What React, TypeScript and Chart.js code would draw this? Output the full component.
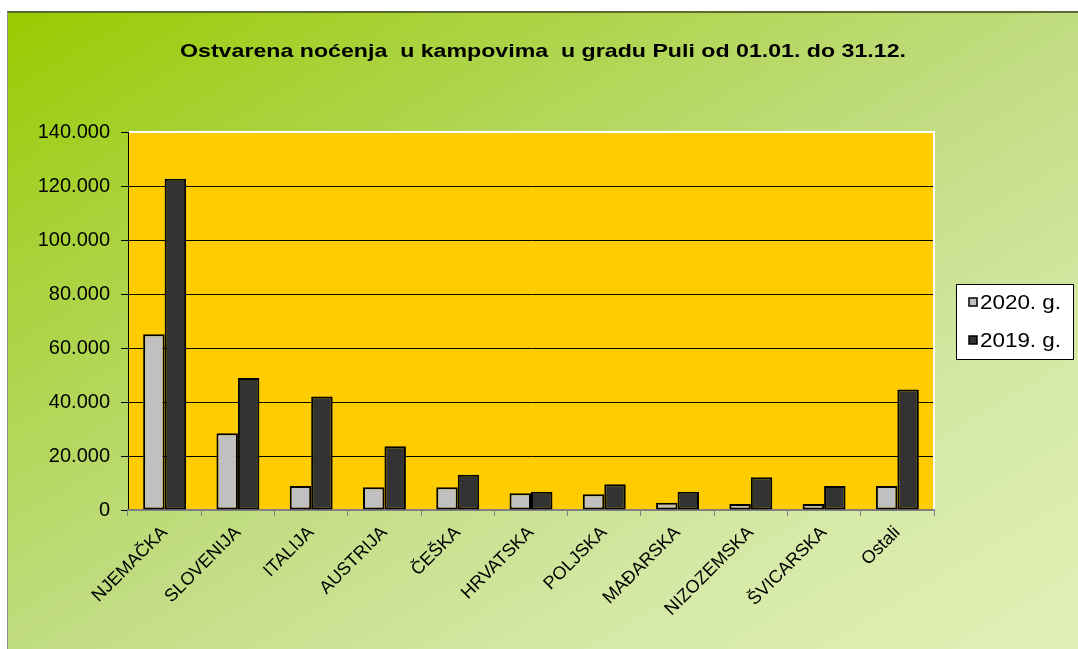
import React, { useEffect, useRef } from "react";
import { Chart, registerables } from "chart.js";

Chart.register(...registerables);

const TITLE = "Ostvarena noćenja  u kampovima  u gradu Puli od 01.01. do 31.12.";
const categories = ["NJEMAČKA", "SLOVENIJA", "ITALIJA", "AUSTRIJA", "ČEŠKA", "HRVATSKA", "POLJSKA", "MAĐARSKA", "NIZOZEMSKA", "ŠVICARSKA", "Ostali"];
const series2020 = [65100, 28400, 8900, 8400, 8400, 6200, 5800, 2700, 2200, 2200, 8900];
const series2019 = [122700, 48900, 42000, 23600, 13100, 6800, 9500, 6800, 12100, 8900, 44600];
const seriesNames = ["2020. g.", "2019. g."];
const seriesColors = ["#C0C0C0", "#333333"];
const yMin = 0;
const yMax = 140000;
const yStep = 20000;

const FONT = "'Liberation Sans', Arial, sans-serif";

function fmt(v: number): string {
  return String(v).replace(/\B(?=(\d{3})+(?!\d))/g, ".");
}

function stretchedText(ctx: any, text: string, x: number, y: number, targetW: number, align: string) {
  const w = ctx.measureText(text).width;
  const sx = targetW / w;
  ctx.save();
  ctx.translate(x, y);
  ctx.scale(sx, 1);
  ctx.textAlign = align;
  ctx.fillText(text, 0, 0);
  ctx.restore();
}

const decor = {
  id: "decor",
  beforeDraw(chart: any) {
    const ctx = chart.ctx;
    const W = chart.width;
    const H = chart.height;
    ctx.save();
    ctx.fillStyle = "#ffffff";
    ctx.fillRect(0, 0, W, H);
    const g = ctx.createLinearGradient(262, -140, 822, 800);
    g.addColorStop(0, "#98CB00");
    g.addColorStop(0.2, "#A8D238");
    g.addColorStop(0.5, "#C0DC80");
    g.addColorStop(0.75, "#D4E8A4");
    g.addColorStop(1, "#E2F0B6");
    ctx.fillStyle = g;
    ctx.fillRect(7, 12, W - 7, H - 12);
    ctx.fillStyle = "#5A6A30";
    ctx.fillRect(7, 11, W - 7, 2);
    ctx.fillStyle = "#909090";
    ctx.fillRect(7, 12, 1, H - 12);
    const a = chart.chartArea;
    ctx.fillStyle = "#FFCC00";
    ctx.fillRect(a.left, a.top, a.right - a.left, a.bottom - a.top);
    ctx.restore();
  },
  afterDraw(chart: any) {
    const ctx = chart.ctx;
    const a = chart.chartArea;
    ctx.save();
    ctx.fillStyle = "#ffffff";
    ctx.fillRect(a.left + 1, a.top - 1, a.right - a.left, 2);
    ctx.fillRect(a.right - 1, a.top - 1, 2, a.bottom - a.top);
    // title
    ctx.fillStyle = "#000000";
    ctx.font = `bold 19px ${FONT}`;
    ctx.textBaseline = "middle";
    stretchedText(ctx, TITLE, 543, 52, 726, "center");
    // legend
    const lx = 956, ly = 284, lw = 117, lh = 75;
    ctx.fillStyle = "#ffffff";
    ctx.fillRect(lx, ly, lw, lh);
    ctx.strokeStyle = "#000000";
    ctx.lineWidth = 1;
    ctx.strokeRect(lx + 0.5, ly + 0.5, lw, lh);
    ctx.font = `20px ${FONT}`;
    ctx.textBaseline = "middle";
    seriesNames.forEach((n, i) => {
      const cy = 302 + i * 38;
      ctx.fillStyle = seriesColors[i];
      ctx.fillRect(969, cy - 4, 8, 8);
      ctx.strokeStyle = "#000000";
      ctx.lineWidth = 1.5;
      ctx.strokeRect(969, cy - 4, 8, 8);
      ctx.fillStyle = "#000000";
      stretchedText(ctx, n, 980, cy + 1, 81, "left");
    });
    ctx.restore();
  },
};

export default function App() {
  const ref = useRef<HTMLCanvasElement | null>(null);
  useEffect(() => {
    document.body.style.margin = "0";
    const chart = new Chart(ref.current as HTMLCanvasElement, {
      type: "bar",
      data: {
        labels: categories,
        datasets: [
          { label: seriesNames[0], data: series2020, backgroundColor: seriesColors[0], borderColor: "#000000", borderWidth: 2, borderSkipped: false, categoryPercentage: 0.586, barPercentage: 1 },
          { label: seriesNames[1], data: series2019, backgroundColor: seriesColors[1], borderColor: "#000000", borderWidth: 2, borderSkipped: false, categoryPercentage: 0.586, barPercentage: 1 },
        ],
      },
      options: {
        animation: false,
        responsive: false,
        devicePixelRatio: 1,
        layout: { padding: { top: 132, right: 144, left: 0, bottom: 0 } },
        plugins: { legend: { display: false }, title: { display: false }, tooltip: { enabled: false } },
        scales: {
          y: {
            min: yMin,
            max: yMax,
            ticks: { stepSize: yStep, callback: (v: any) => fmt(Number(v)), font: { size: 20, family: FONT }, color: "#000000", padding: 11 },
            grid: { color: "#000000", lineWidth: 1, tickLength: 7, drawTicks: true },
            border: { display: true, color: "#000000", width: 1 },
            afterFit: (s: any) => { s.width = 128; },
          },
          x: {
            ticks: { font: { size: 18, family: FONT }, color: "#000000", maxRotation: 45, minRotation: 45, autoSkip: false, padding: 6 },
            grid: { drawOnChartArea: false, drawTicks: true, tickLength: 6, color: "#808080", offset: true },
            border: { display: true, color: "#808080", width: 2 },
            afterFit: (s: any) => { s.height = 139; },
          },
        },
      },
      plugins: [decor],
    } as any);
    return () => chart.destroy();
  }, []);
  return (
    <div style={{ width: 1078, height: 649 }}>
      <canvas ref={ref} width={1078} height={649} />
    </div>
  );
}
